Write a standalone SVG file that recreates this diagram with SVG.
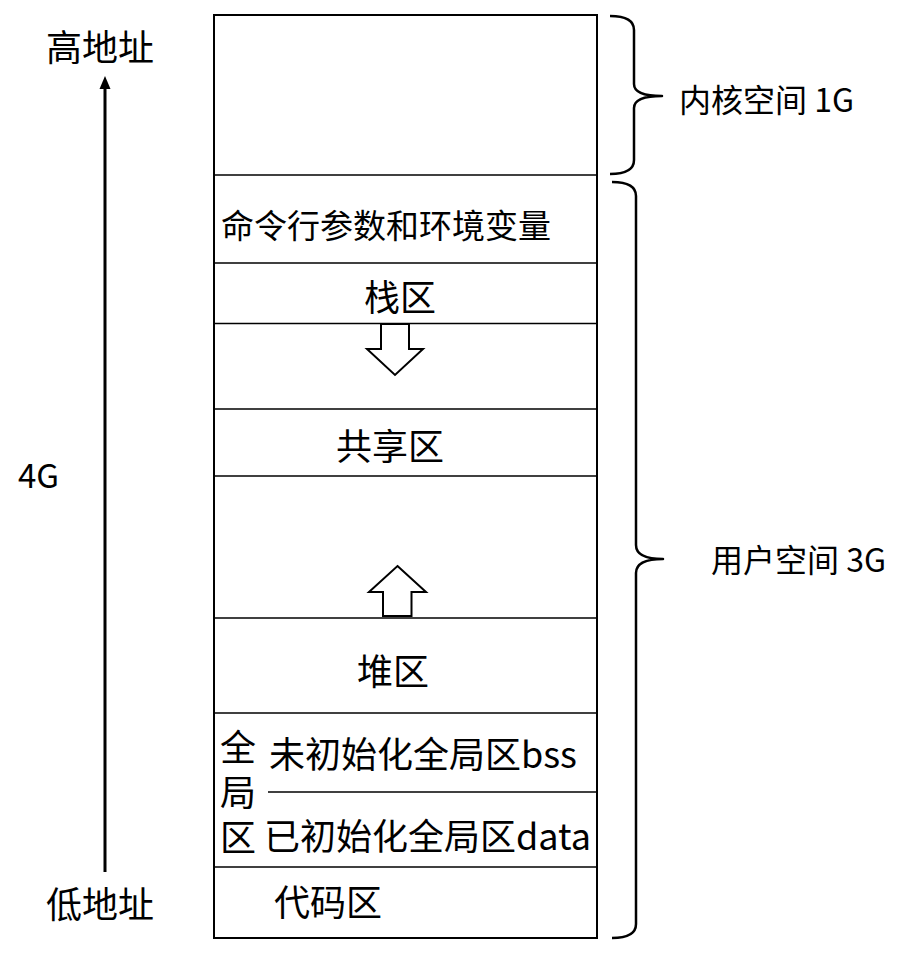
<svg xmlns="http://www.w3.org/2000/svg" width="907" height="967" viewBox="0 0 907 967">
<style>
text{font-family:"Noto Sans CJK SC","Noto Sans",sans-serif;fill:#000}
.t36{font-size:36px}
.t33{font-size:33px}
.t32{font-size:32px}
.div{stroke:#000;stroke-width:1.3;fill:none}
.brace{stroke:#000;stroke-width:2.5;fill:none;stroke-linejoin:round}
.blk{fill:#fff;stroke:#000;stroke-width:2}
</style>
<rect width="907" height="967" fill="#fff"/>

<g id="memory-box">
<rect x="214" y="15" width="383" height="923" fill="#fff" stroke="#000" stroke-width="2"/>
</g>

<g id="dividers">
<line class="div" x1="214" y1="175" x2="597" y2="175"/>
<line class="div" x1="214" y1="263" x2="597" y2="263"/>
<line class="div" x1="214" y1="323.5" x2="597" y2="323.5"/>
<line class="div" x1="214" y1="409" x2="597" y2="409"/>
<line class="div" x1="214" y1="476" x2="597" y2="476"/>
<line class="div" x1="214" y1="618" x2="597" y2="618"/>
<line class="div" x1="214" y1="713" x2="597" y2="713"/>
<line class="div" x1="268" y1="792" x2="597" y2="792"/>
<line class="div" x1="214" y1="867" x2="597" y2="867"/>
</g>

<g id="env-vars">
<text class="t33" x="221" y="238">命令行参数和环境变量</text>
</g>

<g id="stack">
<text class="t36" x="400" y="311" text-anchor="middle">栈区</text>
</g>

<g id="stack-arrow">
<path class="blk" d="M381,324 L409,324 L409,349 L423,349 L395,375 L367,349 L381,349 Z"/>
</g>

<g id="shared">
<text class="t36" x="390" y="460" text-anchor="middle">共享区</text>
</g>

<g id="heap-arrow">
<path class="blk" d="M397.5,566 L426,592 L411.5,592 L411.5,616 L383,616 L383,592 L369,592 Z"/>
</g>

<g id="heap">
<text class="t36" x="393" y="685" text-anchor="middle">堆区</text>
</g>

<g id="global">
<text class="t36" x="238" y="729" writing-mode="vertical-rl" letter-spacing="9">全局区</text>
</g>

<g id="bss">
<text class="t36" x="269" y="768">未初始化全局区bss</text>
</g>

<g id="data">
<text class="t36" x="264" y="850">已初始化全局区data</text>
</g>

<g id="code">
<text class="t36" x="274" y="916">代码区</text>
</g>

<g id="connectors">
<line x1="105" y1="872" x2="105" y2="86" stroke="#000" stroke-width="3"/>
<path d="M105,76 L99.5,89 L110.5,89 Z" fill="#000"/>
<path class="brace" d="M610,16 Q634,16 634,30 L634,84 Q634,96 662,96 Q634,96 634,108 L634,160 Q634,174 610,174"/>
<path class="brace" d="M612,182 Q636,182 636,196 L636,545 Q636,559 663,559 Q636,559 636,573 L636,924 Q636,938 612,938"/>
</g>

<g id="labels">
<text class="t36" x="100" y="61" text-anchor="middle">高地址</text>
<text class="t36" x="100" y="918" text-anchor="middle">低地址</text>
<text class="t33" x="18" y="488">4G</text>
<text class="t32" x="679" y="112">内核空间 1G</text>
<text class="t32" x="711" y="572">用户空间 3G</text>
</g>
</svg>
